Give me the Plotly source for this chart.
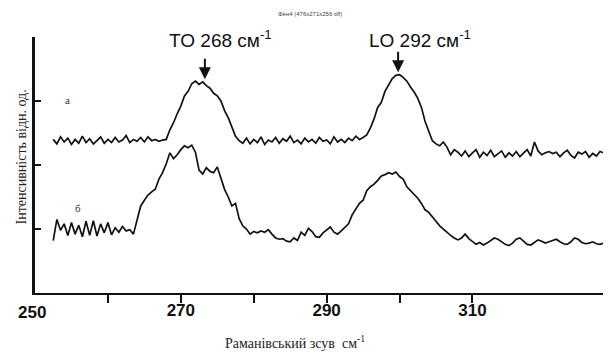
import plotly.graph_objects as go

# Raman shift grid (cm^-1)
wavenumber = [
    252.5, 253.0, 253.5, 254.0, 254.5, 255.0, 255.5, 256.0, 256.5, 257.0,
    257.5, 258.0, 258.5, 259.0, 259.5, 260.0, 260.5, 261.0, 261.5, 262.0,
    262.5, 263.0, 263.5, 264.0, 264.5, 265.0, 265.5, 266.0, 266.5, 267.0,
    267.5, 268.0, 268.5, 269.0, 269.5, 270.0, 270.5, 271.0, 271.5, 272.0,
    272.5, 273.0, 273.5, 274.0, 274.5, 275.0, 275.5, 276.0, 276.5, 277.0,
    277.5, 278.0, 278.5, 279.0, 279.5, 280.0, 280.5, 281.0, 281.5, 282.0,
    282.5, 283.0, 283.5, 284.0, 284.5, 285.0, 285.5, 286.0, 286.5, 287.0,
    287.5, 288.0, 288.5, 289.0, 289.5, 290.0, 290.5, 291.0, 291.5, 292.0,
    292.5, 293.0, 293.5, 294.0, 294.5, 295.0, 295.5, 296.0, 296.5, 297.0,
    297.5, 298.0, 298.5, 299.0, 299.5, 300.0, 300.5, 301.0, 301.5, 302.0,
    302.5, 303.0, 303.5, 304.0, 304.5, 305.0, 305.5, 306.0, 306.5, 307.0,
    307.5, 308.0, 308.5, 309.0, 309.5, 310.0, 310.5, 311.0, 311.5, 312.0,
    312.5, 313.0, 313.5, 314.0, 314.5, 315.0, 315.5, 316.0, 316.5, 317.0,
    317.5, 318.0, 318.5, 319.0, 319.5, 320.0, 320.5, 321.0, 321.5, 322.0,
    322.5, 323.0, 323.5, 324.0, 324.5, 325.0, 325.5, 326.0, 326.5, 327.0,
    327.5, 328.0,
]

# spectrum "а" (upper)
intensity_a = [
    2.40, 2.33, 2.44, 2.36, 2.42, 2.32, 2.40, 2.34, 2.45, 2.35,
    2.41, 2.33, 2.38, 2.44, 2.34, 2.40, 2.35, 2.43, 2.36, 2.39,
    2.46, 2.35, 2.40, 2.37, 2.43, 2.36, 2.44, 2.38, 2.40, 2.37,
    2.39, 2.40,
    2.55, 2.66, 2.80, 2.92, 3.08, 3.15, 3.27, 3.31, 3.26, 3.30,
    3.24, 3.20, 3.12, 3.08, 3.00, 2.85, 2.74, 2.58, 2.45, 2.38,
    2.34, 2.42, 2.33, 2.40, 2.35, 2.44, 2.32, 2.39, 2.36, 2.43,
    2.34, 2.41, 2.37, 2.45, 2.35, 2.39, 2.33, 2.42, 2.36, 2.40,
    2.34, 2.43, 2.37, 2.39, 2.33, 2.44, 2.36, 2.40, 2.35, 2.42,
    2.38, 2.45, 2.40, 2.43, 2.47,
    2.58, 2.72, 2.90, 2.98, 3.15, 3.25, 3.35, 3.40, 3.41, 3.37,
    3.31, 3.22, 3.14, 3.04, 2.90, 2.68, 2.52, 2.38, 2.33, 2.30,
    2.36, 2.28, 2.16, 2.24, 2.20, 2.14, 2.22, 2.13, 2.19, 2.24,
    2.12, 2.20, 2.15, 2.23, 2.13, 2.18, 2.22, 2.12, 2.19, 2.14,
    2.21, 2.13, 2.18, 2.24, 2.14, 2.36, 2.22, 2.16, 2.19, 2.21,
    2.18, 2.20, 2.13, 2.19, 2.23, 2.15, 2.11, 2.20, 2.17, 2.21,
    2.12, 2.18, 2.14, 2.21, 2.19,
]

# spectrum "б" (lower)
intensity_b = [
    0.82, 1.15, 0.98, 1.08, 0.90, 1.10, 0.92, 1.06, 0.88, 1.12,
    0.90, 1.13, 0.89, 1.08, 0.94, 1.10, 0.91, 1.02, 0.95, 1.04,
    0.97, 0.99, 0.92,
    1.12, 1.36, 1.45, 1.53, 1.58, 1.62, 1.78, 1.88, 2.02, 2.19,
    2.10, 2.16, 2.24, 2.30, 2.27, 2.31, 2.20, 1.92, 1.86, 1.96,
    1.90, 1.88, 1.97, 1.78, 1.62, 1.50, 1.36, 1.40, 1.16, 1.05,
    1.00, 0.92, 0.96, 0.94, 0.97, 0.95, 0.99, 0.92, 0.86, 0.84,
    0.85, 0.81, 0.80, 0.86, 0.82, 0.95, 0.90, 1.01, 0.96, 0.88,
    0.87, 0.94, 0.98, 1.03, 0.95, 0.92, 0.97, 1.02, 1.08,
    1.22, 1.30, 1.40, 1.45, 1.60, 1.66, 1.70, 1.76, 1.83, 1.85,
    1.88, 1.86, 1.89, 1.82, 1.78, 1.66, 1.60, 1.54, 1.48, 1.40,
    1.30, 1.26, 1.18, 1.12, 1.05, 1.00, 0.94, 0.90, 0.86, 0.83,
    0.86, 0.92, 0.85, 0.80, 0.76, 0.79, 0.75, 0.78, 0.82, 0.86,
    0.84, 0.80, 0.76, 0.74, 0.78, 0.84, 0.86, 0.81, 0.76, 0.75,
    0.79, 0.83, 0.81, 0.78, 0.80, 0.82, 0.84, 0.80, 0.77, 0.76,
    0.80, 0.86, 0.84, 0.79, 0.77, 0.78, 0.80, 0.77, 0.76, 0.78,
]

x_tick_vals = [260, 270, 280, 290, 300, 310]
x_tick_text = ["", "270", "", "290", "", "310"]
y_tick_vals = [1, 2, 3, 4]

peak_to = 273.3   # drawn position of the TO arrow
peak_lo = 299.8   # drawn position of the LO arrow

fig = go.Figure()
for vals in (intensity_a, intensity_b):
    fig.add_trace(go.Scatter(
        x=wavenumber, y=vals, mode="lines",
        line=dict(color="#111111", width=1.7),
        showlegend=False, hoverinfo="skip",
    ))

serif = "Liberation Serif, Times New Roman, serif"
sans = "Liberation Sans, Arial, sans-serif"

ann = [
    dict(text="Фён4 (476x271x256 tiff)", xref="paper", yref="paper",
         x=0.477, y=1.09, font=dict(size=6, color="#444", family=sans)),
    dict(text="TO 268 см<sup>-1</sup>", xref="x", yref="y", x=275.4, y=3.97,
         font=dict(size=19, color="#111", family=sans)),
    dict(text="LO 292 см<sup>-1</sup>", xref="x", yref="y", x=302.8, y=3.97,
         font=dict(size=19, color="#111", family=sans)),
    dict(text="а", xref="x", yref="y", x=254.5, y=3.02,
         font=dict(size=11, color="#333", family=serif)),
    dict(text="б", xref="x", yref="y", x=255.9, y=1.33,
         font=dict(size=11, color="#333", family=serif)),
    dict(text="250", xref="paper", yref="paper", x=-0.005, y=-0.078,
         font=dict(size=17, color="#111", family=sans, weight="bold")),
    dict(text="Раманівський зсув  см<sup>-1</sup>", xref="paper", yref="paper",
         x=0.451, y=-0.19, font=dict(size=14, color="#222", family=serif)),
    dict(text="Інтенсивність відн. од.", xref="paper", yref="paper",
         x=-0.024, y=0.53, textangle=-90,
         font=dict(size=14, color="#222", family=serif)),
]
for a in ann:
    a.update(showarrow=False, xanchor="center", yanchor="middle")

arrows = [
    dict(text="", xref="x", yref="y", x=peak_to, y=3.34, ax=0, ay=-22,
         showarrow=True, arrowhead=2, arrowsize=1.2, arrowwidth=2, arrowcolor="#111"),
    dict(text="", xref="x", yref="y", x=peak_lo, y=3.45, ax=0, ay=-22,
         showarrow=True, arrowhead=2, arrowsize=1.2, arrowwidth=2, arrowcolor="#111"),
]

# the page body adds an 8px offset; size the figure so it fits the 611x354 window
fig.update_layout(
    width=603, height=346,
    margin=dict(l=27, r=0, t=29, b=61),
    paper_bgcolor="white", plot_bgcolor="white",
    annotations=ann + arrows,
    xaxis=dict(
        range=[250, 329], showgrid=False, zeroline=False,
        showline=True, linecolor="#111", linewidth=2,
        ticks="outside", ticklen=8, tickwidth=2, tickcolor="#111",
        tickvals=x_tick_vals, ticktext=x_tick_text, ticklabelstandoff=-7,
        tickfont=dict(size=17, color="#111", family=sans, weight="bold"),
    ),
    yaxis=dict(
        range=[0, 4], showgrid=False, zeroline=False,
        showline=True, linecolor="#111", linewidth=2.5,
        ticks="inside", ticklen=6, tickwidth=2, tickcolor="#111",
        tickvals=y_tick_vals, showticklabels=False,
    ),
)

fig.write_html("out.html")
